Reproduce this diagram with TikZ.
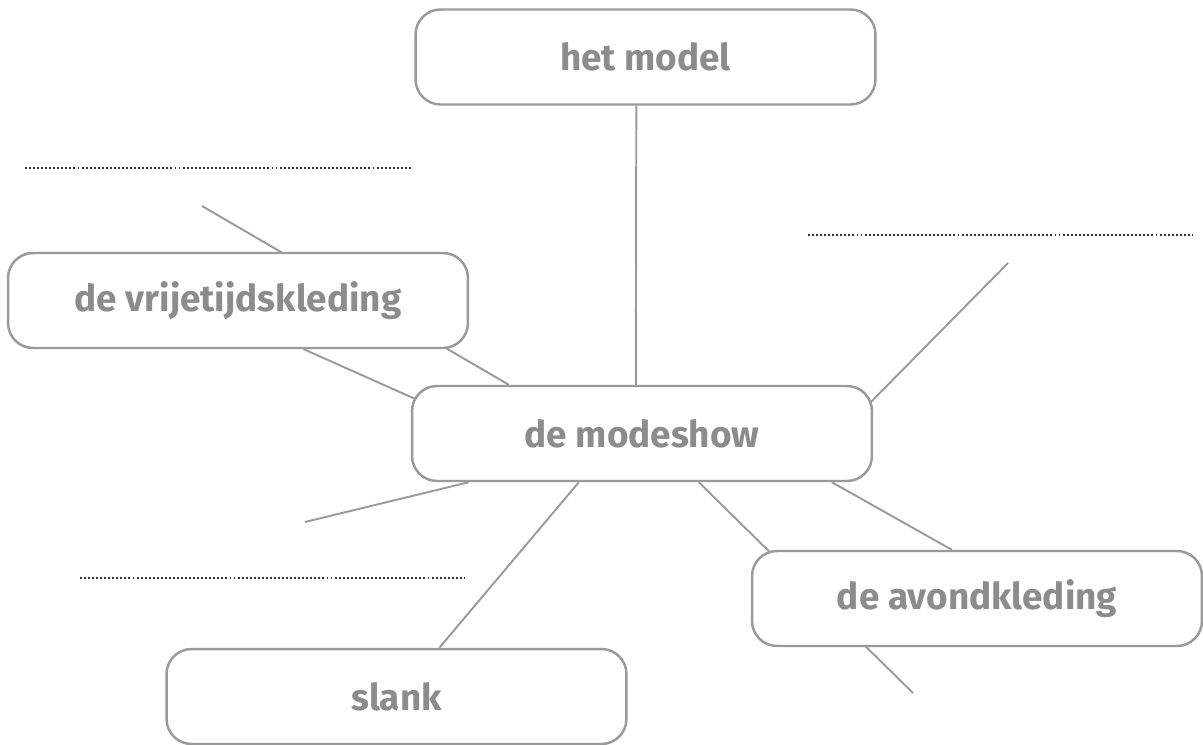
\documentclass[tikz,border=0pt]{standalone}
\usepackage{fontspec}
\setmainfont{Fira Sans}
\usetikzlibrary{calc,backgrounds}

\definecolor{boxgray}{HTML}{9A9A9A}
\definecolor{textgray}{HTML}{8C8C8C}
\definecolor{dotgray}{HTML}{333333}

\tikzset{
    topic/.style={draw=boxgray, line width=1.4pt, fill=white, rounded corners=0.5cm,
        minimum width=9.2cm, minimum height=1.9cm, inner sep=0pt,
        text=textgray, font=\fontsize{21}{24}\selectfont\bfseries},
    spoke/.style={draw=boxgray, line width=1.1pt},
    writeline/.style={draw=dotgray, line width=1.1pt, dash pattern=on 1.1pt off 1.2pt}
}

\begin{document}
\begin{tikzpicture}[x=0.02cm, y=-0.02cm]
        \useasboundingbox (0,0) rectangle (1203,744);

        \node[topic] (model) at (645.5,57) {het model};
        \node[topic] (vrije) at (238,300.5) {de vrijetijdskleding};
        \node[topic] (show) at (642,433.5) {de modeshow};
        \node[topic, minimum width=9cm] (avond) at (977,598.5) {de avondkleding};
        \node[topic] (slank) at (396.5,696.5) {slank};

        % loose ends of the spokes
        \coordinate (vfree) at (202,206);
        \coordinate (rfree) at (1008,263);
        \coordinate (lfree) at (305,522);
        \coordinate (afree) at (913,693);

        % lines to write on
        \coordinate (dotAa) at (25,168);
        \coordinate (dotAb) at (412,168);
        \coordinate (dotBa) at (808,235);
        \coordinate (dotBb) at (1193,235);
        \coordinate (dotCa) at (80,578);
        \coordinate (dotCb) at (464,578);
        \draw[writeline] (dotAa) -- (dotAb);
        \draw[writeline] (dotBa) -- (dotBb);
        \draw[writeline] (dotCa) -- (dotCb);

        \begin{pgfonlayer}{background}
        \draw[spoke] ($(model.south west)+(222,0)$) -- ($(show.north west)+(225,0)$);
        \draw[spoke] (vfree) -- ($(show.north west)+(98,0)$);
        \draw[spoke] ($(vrije.south west)+(297,0)$) -- ($(show.north west)+(13,18)$);
        \draw[spoke] (rfree) -- ($(show.north east)+(-7,22)$);
        \draw[spoke] ($(show.south west)+(58,0)$) -- (lfree);
        \draw[spoke] ($(show.south west)+(168,0)$) -- ($(slank.north west)+(274,0)$);
        \draw[spoke] ($(show.south west)+(288,0)$) -- (afree);
        \draw[spoke] ($(show.south west)+(421,0)$) -- ($(avond.north west)+(201,0)$);
        \end{pgfonlayer}
    \end{tikzpicture}
\end{document}
